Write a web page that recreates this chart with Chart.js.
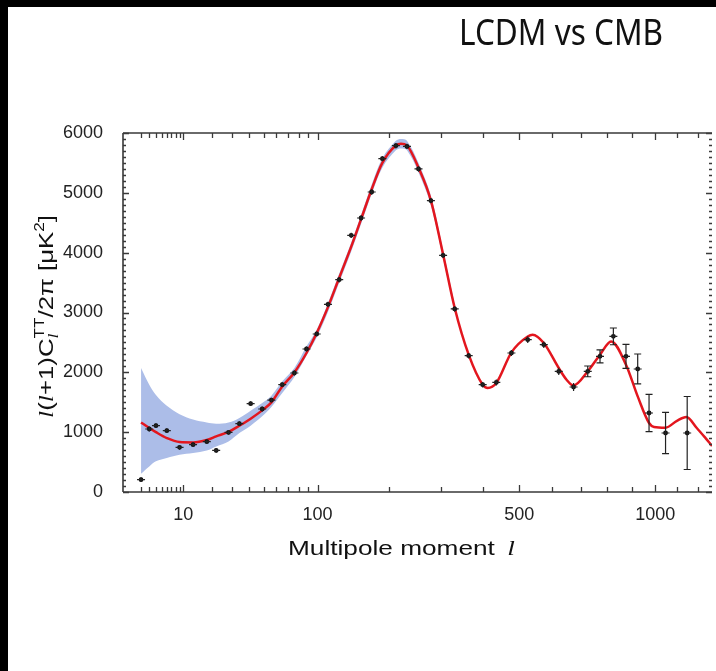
<!DOCTYPE html>
<html>
<head>
<meta charset="utf-8">
<title>LCDM vs CMB</title>
<script src="https://cdn.jsdelivr.net/npm/chart.js@4.4.1/dist/chart.umd.min.js"></script>
<style>
  html, body { margin: 0; padding: 0; background: #fff; }
  #wrap { position: relative; width: 716px; height: 671px; overflow: hidden; }
  #myChart { position: absolute; left: 0; top: 0; }
  .bar { position: absolute; background: #000; }
</style>
</head>
<body>
<div id="wrap">
  <canvas id="myChart" width="716" height="671"></canvas>
  <div class="bar" style="left:0;top:0;width:716px;height:7px"></div>
  <div class="bar" style="left:0;top:0;width:8px;height:671px"></div>
</div>
<script>
// multipole ticks along the bottom/top axis, labelled ones
const xTicks = [2, 3, 4, 5, 6, 7, 8, 9, 10, 20, 30, 40, 50, 60, 70, 80, 90, 100,
  200, 300, 400, 500, 600, 700, 800, 900, 1000, 1100, 1200];
const xLabels = [10, 100, 500, 1000];
const yTicks = [0, 1000, 2000, 3000, 4000, 5000, 6000];

// binned measurements
const pointL = [2, 3, 4, 6, 9, 13, 18, 22, 28, 34, 41, 49, 56, 65, 76, 88, 99, 112, 126, 142,
  156, 172, 189, 212, 232, 254, 279, 305, 331, 364, 399, 435, 477, 525, 575, 624, 675, 726,
  772, 824, 875, 924, 973, 1047, 1149];
const pointD = [206, 1053, 1108, 1025, 746, 791, 841, 695, 996, 1142, 1476, 1387, 1537, 1793,
  1989, 2390, 2641, 3136, 3548, 4289, 4579, 5014, 5571, 5788, 5776, 5399, 4869, 3955, 3059,
  2278, 1793, 1832, 2323, 2546, 2462, 2016, 1755, 2016, 2267, 2601, 2267, 2056, 1320, 986, 986];
const pointErr = [40, 40, 40, 40, 40, 40, 40, 40, 40, 40, 40, 40, 40, 40, 40, 40, 40,
  45, 45, 45, 45, 45, 45, 45, 45, 45, 45, 45, 45, 45, 45,
  50, 50, 55, 55, 60, 65, 90, 110, 140, 200, 250, 310, 345, 610];

// LCDM best fit curve
const modelL = [2, 3, 4, 6, 9, 13, 18, 22, 28, 34, 41, 49, 56, 65, 76, 88, 99, 112, 126, 142,
  156, 172, 189, 212, 221, 232, 254, 279, 305, 331, 364, 399, 412, 435, 477, 525, 540, 575,
  624, 650, 675, 726, 772, 815, 875, 924, 973, 995, 1047, 1100, 1145, 1196, 1240, 1273];
const modelD = [1163, 1070, 1000, 902, 835, 829, 869, 930, 1003, 1108, 1225, 1364, 1498, 1765,
  1999, 2323, 2657, 3090, 3580, 4100, 4560, 5060, 5500, 5790, 5820, 5790, 5420, 4870, 3970,
  3075, 2295, 1793, 1740, 1822, 2334, 2600, 2629, 2490, 2072, 1880, 1780, 2016, 2295, 2517,
  2128, 1598, 1153, 1087, 1075, 1190, 1253, 1070, 900, 770];

// cosmic variance band
const bandL = [2, 3, 4, 6, 9, 13, 18, 22, 28, 34, 41, 49, 56, 65, 76, 88, 99, 112, 126, 142,
  156, 172, 189, 212, 221, 232, 254, 279, 305, 331];
const bandUpper = [2072, 1793, 1620, 1440, 1300, 1210, 1160, 1140, 1160, 1237, 1359, 1487, 1610,
  1849, 2072, 2434, 2713, 3160, 3650, 4170, 4630, 5140, 5580, 5870, 5900, 5870, 5500, 4950, 4040, 3130];
const bandLower = [306, 428, 512, 568, 623, 652, 695, 762, 846, 986, 1108, 1264, 1421, 1655,
  1922, 2278, 2584, 3010, 3500, 4020, 4480, 4980, 5420, 5710, 5740, 5710, 5340, 4790, 3900, 3020];

const POW = 0.4; // the axis goes like l^0.4

class PowerScale extends Chart.Scale {
  static id = 'power';
  static defaults = {};
  parse(raw, index) {
    const v = Chart.LinearScale.prototype.parse.apply(this, [raw, index]);
    return isFinite(v) && v > 0 ? v : null;
  }
  determineDataLimits() {
    this.min = this.options.min;
    this.max = this.options.max;
  }
  buildTicks() {
    return xTicks.map(v => ({ value: v, major: xLabels.includes(v) }));
  }
  getLabelForValue(v) { return String(v); }
  configure() {
    super.configure();
    this._start = Math.pow(this.min, POW);
    this._range = Math.pow(this.max, POW) - this._start;
  }
  getPixelForValue(v) {
    return this.getPixelForDecimal((Math.pow(v, POW) - this._start) / this._range);
  }
  getValueForPixel(p) {
    return Math.pow(this._start + this.getDecimalForPixel(p) * this._range, 1 / POW);
  }
}
Chart.register(PowerScale);

const SANS = '"Liberation Sans", Arial, sans-serif';
const SERIF = '"Liberation Serif", "Times New Roman", serif';

// draw a row of text pieces, stretched to a given width
function drawRich(ctx, parts, targetW) {
  let total = 0;
  parts.forEach(p => {
    ctx.font = p.f;
    p.w = ctx.measureText(p.t).width;
    if (!p.noAdv) total += p.w + (p.gap || 0);
  });
  const s = targetW ? targetW / total : 1;
  ctx.scale(s, 1);
  let x = 0;
  parts.forEach(p => {
    ctx.font = p.f;
    ctx.fillText(p.t, x, p.dy || 0);
    if (!p.noAdv) x += p.w + (p.gap || 0);
  });
}

const texts = {
  id: 'texts',
  afterDraw(chart) {
    const ctx = chart.ctx;
    ctx.save();
    ctx.fillStyle = '#111';
    ctx.textBaseline = 'alphabetic';
    ctx.textAlign = 'left';

    // main title
    ctx.save();
    ctx.translate(459, 45);
    drawRich(ctx, [{ t: 'LCDM vs CMB', f: '37px "Noto Sans", sans-serif' }], 204);
    ctx.restore();

    // x axis title
    ctx.save();
    ctx.translate(288, 555);
    drawRich(ctx, [
      { t: 'Multipole moment', f: '21px ' + SANS, gap: 10 },
      { t: 'l', f: 'italic 22px ' + SERIF }
    ], 227);
    ctx.restore();

    // y axis title
    ctx.save();
    ctx.translate(53, 418);
    ctx.rotate(-Math.PI / 2);
    drawRich(ctx, [
      { t: 'l', f: 'italic 21px ' + SERIF },
      { t: '(', f: '21px ' + SANS },
      { t: 'l', f: 'italic 21px ' + SERIF },
      { t: '+1)C', f: '21px ' + SANS },
      { t: 'l', f: 'italic 14px ' + SERIF, dy: 5, noAdv: true },
      { t: 'TT', f: '14px ' + SANS, dy: -9 },
      { t: '/2π [μK', f: '21px ' + SANS },
      { t: '2', f: '14px ' + SANS, dy: -9 },
      { t: ']', f: '21px ' + SANS }
    ], 203);
    ctx.restore();

    ctx.restore();
  }
};

// frame with inward pointing ticks, plus error bars
const frame = {
  id: 'frame',
  afterDatasetsDraw(chart) {
    const { ctx, chartArea: a, scales: { x, y } } = chart;
    ctx.save();
    ctx.strokeStyle = '#3a3a3a';
    ctx.lineWidth = 1.6;
    ctx.beginPath();
    ctx.moveTo(a.left, a.top); ctx.lineTo(a.right, a.top);
    ctx.moveTo(a.left, a.top); ctx.lineTo(a.left, a.bottom);
    ctx.moveTo(a.left, a.bottom); ctx.lineTo(a.right, a.bottom);
    ctx.stroke();

    ctx.lineWidth = 1.3;
    ctx.beginPath();
    xTicks.forEach(v => {
      const px = Math.round(x.getPixelForValue(v)) + 0.5;
      const len = xLabels.includes(v) ? 7 : 5;
      ctx.moveTo(px, a.bottom); ctx.lineTo(px, a.bottom - len);
      ctx.moveTo(px, a.top); ctx.lineTo(px, a.top + len);
    });
    for (let v = 0; v <= 6000; v += 100) {
      const py = Math.round(y.getPixelForValue(v)) + 0.5;
      const len = v % 1000 === 0 ? 6 : 3;
      ctx.moveTo(a.left, py); ctx.lineTo(a.left + len, py);
      ctx.moveTo(a.right, py); ctx.lineTo(a.right - len, py);
    }
    ctx.stroke();

    ctx.strokeStyle = '#222';
    ctx.lineWidth = 1.2;
    ctx.beginPath();
    pointL.forEach((l, i) => {
      const px = x.getPixelForValue(l);
      const py = y.getPixelForValue(pointD[i]);
      const top = y.getPixelForValue(pointD[i] + pointErr[i]);
      const bot = y.getPixelForValue(pointD[i] - pointErr[i]);
      ctx.moveTo(px, top); ctx.lineTo(px, bot);
      ctx.moveTo(px - 4, py); ctx.lineTo(px + 4, py);
      if (pointErr[i] > 80) {
        ctx.moveTo(px - 3.5, top); ctx.lineTo(px + 3.5, top);
        ctx.moveTo(px - 3.5, bot); ctx.lineTo(px + 3.5, bot);
      }
    });
    ctx.stroke();
    ctx.restore();
  }
};

const toXY = (xs, ys) => xs.map((v, i) => ({ x: v, y: ys[i] }));

new Chart(document.getElementById('myChart'), {
  type: 'line',
  data: {
    datasets: [
      {
        label: 'WMAP',
        data: toXY(pointL, pointD),
        showLine: false,
        pointRadius: 2.4,
        pointBackgroundColor: '#111',
        pointBorderWidth: 0,
        order: 0
      },
      {
        label: 'LCDM',
        data: toXY(modelL, modelD),
        borderColor: '#e3161e',
        borderWidth: 2.5,
        pointRadius: 0,
        cubicInterpolationMode: 'monotone',
        fill: false,
        order: 1
      },
      {
        label: 'upper',
        data: toXY(bandL, bandUpper),
        borderColor: 'transparent',
        borderWidth: 0,
        pointRadius: 0,
        tension: 0.35,
        fill: false,
        order: 2
      },
      {
        label: 'lower',
        data: toXY(bandL, bandLower),
        borderColor: 'transparent',
        borderWidth: 0,
        pointRadius: 0,
        tension: 0.35,
        backgroundColor: 'rgb(172, 189, 232)',
        fill: '-1',
        order: 3
      }
    ]
  },
  options: {
    responsive: false,
    animation: false,
    layout: { padding: { left: 0, top: 133, right: 2, bottom: 0 } },
    plugins: {
      legend: { display: false },
      tooltip: { enabled: false },
      title: { display: false }
    },
    scales: {
      x: {
        type: 'power',
        min: 0.59,
        max: 1273,
        grid: { display: false },
        border: { display: false },
        ticks: {
          autoSkip: false,
          maxRotation: 0,
          padding: 4,
          color: '#222',
          font: { family: SANS, size: 18 },
          callback: v => xLabels.includes(v) ? String(v) : ''
        },
        afterFit: s => { s.height = 179; }
      },
      y: {
        min: 0,
        max: 6000,
        grid: { display: false },
        border: { display: false },
        afterBuildTicks: s => { s.ticks = yTicks.map(v => ({ value: v })); },
        ticks: {
          padding: 12,
          color: '#222',
          font: { family: SANS, size: 18 },
          callback: v => String(v)
        },
        afterFit: s => { s.width = 123; }
      }
    }
  },
  plugins: [frame, texts]
});
</script>
</body>
</html>
